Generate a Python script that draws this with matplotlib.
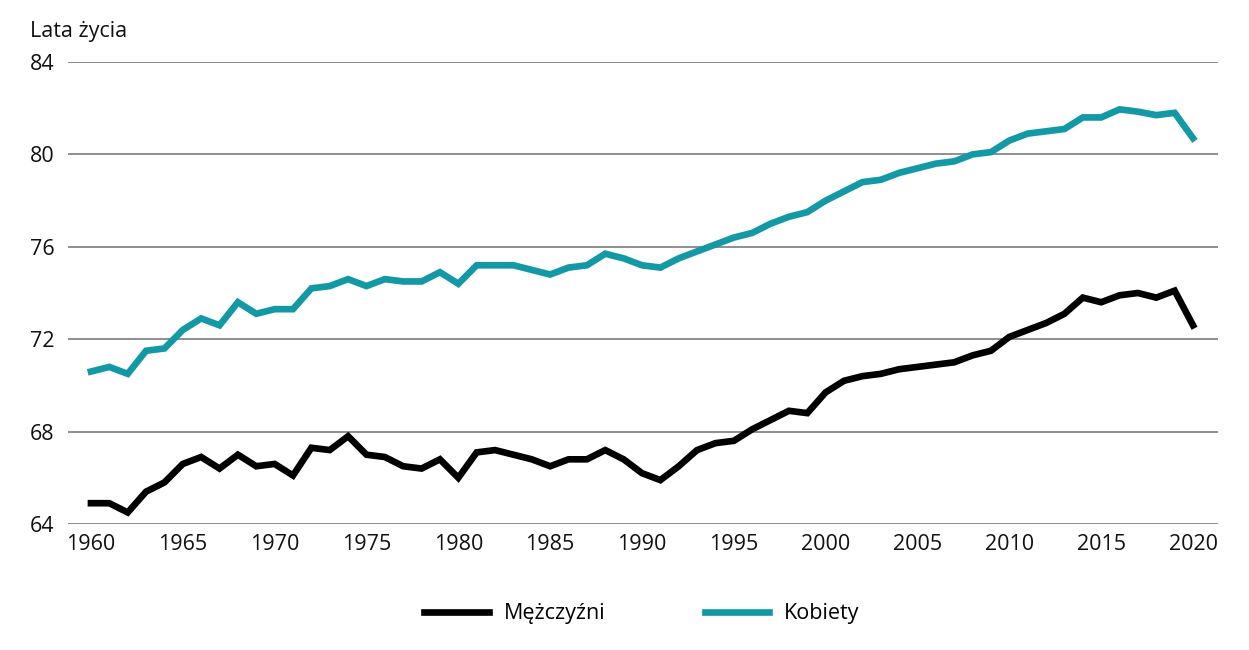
import matplotlib.pyplot as plt

plt.rcParams['font.family'] = ['Open Sans', 'DejaVu Sans']

lata = list(range(1960, 2021))

mezczyzni = [64.9, 64.9, 64.5, 65.4, 65.8, 66.6, 66.9, 66.4, 67.0, 66.5,
             66.6, 66.1, 67.3, 67.2, 67.8, 67.0, 66.9, 66.5, 66.4, 66.8,
             66.0, 67.1, 67.2, 67.0, 66.8, 66.5, 66.8, 66.8, 67.2, 66.8,
             66.2, 65.9, 66.5, 67.2, 67.5, 67.6, 68.1, 68.5, 68.9, 68.8,
             69.7, 70.2, 70.4, 70.5, 70.7, 70.8, 70.9, 71.0, 71.3, 71.5,
             72.1, 72.4, 72.7, 73.1, 73.8, 73.6, 73.9, 74.0, 73.8, 74.1,
             72.6]

kobiety = [70.6, 70.8, 70.5, 71.5, 71.6, 72.4, 72.9, 72.6, 73.6, 73.1,
           73.3, 73.3, 74.2, 74.3, 74.6, 74.3, 74.6, 74.5, 74.5, 74.9,
           74.4, 75.2, 75.2, 75.2, 75.0, 74.8, 75.1, 75.2, 75.7, 75.5,
           75.2, 75.1, 75.5, 75.8, 76.1, 76.4, 76.6, 77.0, 77.3, 77.5,
           78.0, 78.4, 78.8, 78.9, 79.2, 79.4, 79.6, 79.7, 80.0, 80.1,
           80.6, 80.9, 81.0, 81.1, 81.6, 81.6, 81.95, 81.85, 81.7, 81.8,
           80.7]

y_ticks = [64, 68, 72, 76, 80, 84]
x_ticks = list(range(1960, 2021, 5))

fig = plt.figure(figsize=(12.49, 6.5), dpi=100)
ax = fig.add_axes([68/1249, 1 - 524/650, (1218-68)/1249, (524-62)/650])

ax.plot(lata, mezczyzni, color='black', lw=4.8, solid_joinstyle='miter', label='Mężczyźni')
ax.plot(lata, kobiety, color='#1399a6', lw=4.8, solid_joinstyle='miter', label='Kobiety')

ax.set_ylim(64, 84)
ax.set_xlim(1958.75, 2021.36)
ax.set_yticks(y_ticks)
ax.set_xticks(x_ticks)
ax.grid(axis='y', color='#707070', lw=1.1)
ax.set_axisbelow(True)
for s in ax.spines.values():
    s.set_visible(False)
ax.tick_params(length=0, labelsize=15.5, colors='#111111')
ax.tick_params(axis='x', pad=7)
for t in ax.get_yticklabels():
    t.set_horizontalalignment('left')
    t.set_x(-(68 - 30) / 1150)
ax.tick_params(axis='y', pad=0)

fig.text(30/1249, 1 - 31/650, 'Lata życia', fontsize=15.5, va='center', ha='left', color='#111111')

fig.legend(loc='center', bbox_to_anchor=(642/1249, 1 - 614/650), ncol=2, frameon=False,
           fontsize=15.5, handlelength=3.0, handletextpad=0.7, columnspacing=4.6)

fig.savefig('out.png', dpi=100)
